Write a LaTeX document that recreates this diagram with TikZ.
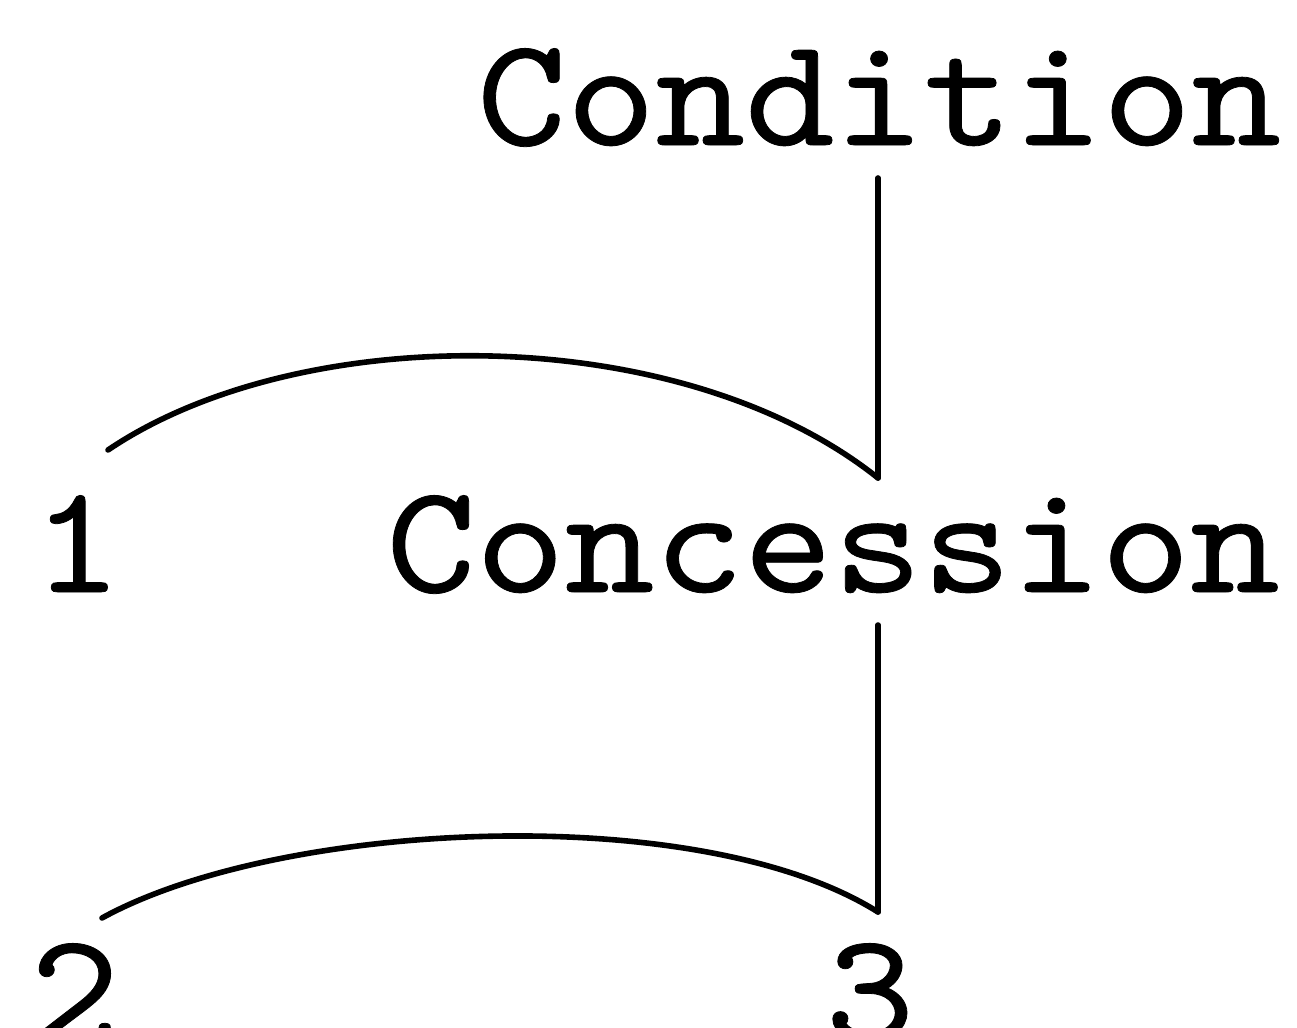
\documentclass[tikz,border=0pt]{standalone}
\usepackage{fontspec}
\newfontfamily\courlike{lmmono10-regular.otf}[FakeStretch=1.095,FakeBold=0.5]
\usetikzlibrary{calc}
\begin{document}
\begin{tikzpicture}[x=0.5pt,y=-0.5pt,
  lbl/.style={anchor=base,inner sep=0pt,font=\courlike\fontsize{77.7}{80}\selectfont},
  conn/.style={line width=2.8pt,line cap=round}]
\useasboundingbox (0,0) rectangle (1297,1028);
\node[lbl] (cond) at (879,145) {Condition};
\node[lbl] (conc) at (833,592) {Concession};
\node[lbl] (n1) at (77,592) {1};
\node[lbl] (n2) at (75,1040) {2};
\node[lbl] (n3) at (870,1040) {3};
\coordinate (j1) at (878,478);
\coordinate (j2) at (878,912);
\coordinate (s1) at (108,450);
\coordinate (s2) at (102,918);
\draw[conn] ($(cond.base -| j1)+(0,33)$) -- (j1);
\draw[conn] ($(conc.base -| j2)+(0,33)$) -- (j2);
\draw[conn] (s1) .. controls (300,320) and (680,320) .. (j1);
\draw[conn] (s2) .. controls (280,820) and (700,800) .. (j2);
\end{tikzpicture}
\end{document}
